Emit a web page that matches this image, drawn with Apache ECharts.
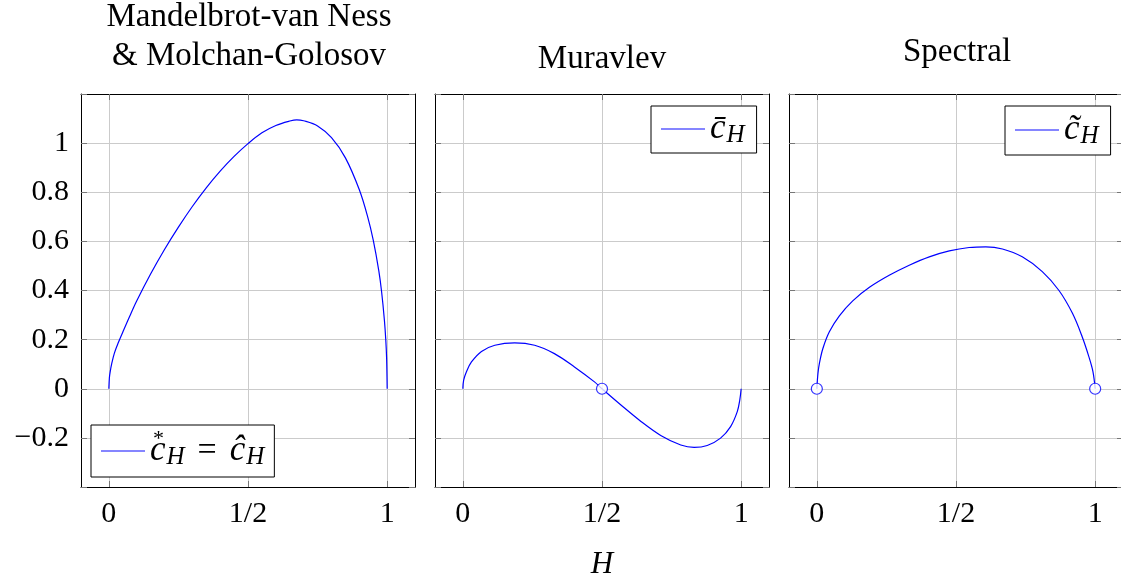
<!DOCTYPE html>
<html>
<head>
<meta charset="utf-8">
<script src="https://cdn.jsdelivr.net/npm/echarts@6/dist/echarts.min.js"></script>
<style>
html,body{margin:0;padding:0;background:#fff;}
#chart{width:1121px;height:579px;}
</style>
</head>
<body>
<div id="chart"></div>
<script>
// ---------------- data ----------------
const panelTitles = ['Mandelbrot-van Ness\n& Molchan-Golosov', 'Muravlev', 'Spectral'];
const xTickValues = [0, 0.5, 1];
const xTickLabels = ['0', '1/2', '1'];
const axisTitle = 'H';

// Mandelbrot-van Ness & Molchan-Golosov constant
const hStar = [0, 0.002, 0.005, 0.01, 0.02, 0.035, 0.05, 0.075, 0.1, 0.15, 0.2, 0.25, 0.3, 0.35, 0.4, 0.45, 0.5, 0.55, 0.6, 0.65, 0.675, 0.7, 0.75, 0.8, 0.85, 0.9, 0.93, 0.95, 0.97, 0.98, 0.99, 0.995, 0.998, 1.0];
const cStar = [0, 0.045, 0.07, 0.10, 0.145, 0.19, 0.23, 0.295, 0.357, 0.467, 0.567, 0.658, 0.742, 0.818, 0.886, 0.946, 0.998, 1.042, 1.072, 1.09, 1.095, 1.091, 1.07, 1.022, 0.94, 0.81, 0.70, 0.605, 0.48, 0.395, 0.28, 0.2, 0.125, 0];

// Muravlev constant
const hBar = [0, 0.003, 0.013, 0.031, 0.067, 0.115, 0.186, 0.258, 0.329, 0.401, 0.473, 0.5, 0.568, 0.640, 0.711, 0.783, 0.831, 0.878, 0.926, 0.962, 0.986, 0.995, 1.0];
const cBar = [0, 0.035, 0.069, 0.109, 0.152, 0.177, 0.187, 0.177, 0.143, 0.089, 0.028, 0, -0.066, -0.133, -0.190, -0.229, -0.239, -0.231, -0.201, -0.154, -0.093, -0.046, 0];
const barOpenH = [0.5];
const barOpenC = [0];

// Spectral constant
const hTilde = [0, 0.004, 0.010, 0.022, 0.045, 0.081, 0.129, 0.189, 0.260, 0.332, 0.404, 0.476, 0.547, 0.607, 0.667, 0.738, 0.810, 0.870, 0.918, 0.953, 0.977, 0.992, 1.0];
const cTilde = [0, 0.062, 0.108, 0.165, 0.232, 0.297, 0.358, 0.413, 0.462, 0.503, 0.537, 0.561, 0.575, 0.578, 0.569, 0.537, 0.477, 0.400, 0.308, 0.213, 0.132, 0.070, 0];
const tildeOpenH = [0, 1];
const tildeOpenC = [0, 0];

const legendNames = ['cstar', 'cbar', 'ctilde'];
const legendTexts = [
  '{c|c}{s|H}{eq|=}{c|c\u0302}{s|H}',
  '{c|c\u0304}{s|H}',
  '{c|c\u0303}{s|H}'
];

// ---------------- chart ----------------
const FONT = 'Liberation Serif';
const BLUE = '#0000ff';
const zip = (a, b) => a.map((v, i) => [v, b[i]]);

const gridLefts = [81, 435, 789];
const grids = gridLefts.map(l => ({left: l, top: 94, width: 334, height: 393, containLabel: false, outerBoundsMode: 'none'}));

const TICK = '#777777';
const GRIDC = '#cbcbcb';
const xAxes = [], yAxes = [];
gridLefts.forEach((l, i) => {
  xAxes.push({
    type: 'value', gridIndex: i, position: 'bottom', min: -0.1, max: 1.1,
    axisLine: {onZero: false, lineStyle: {color: '#000', width: 1}},
    axisTick: {inside: true, length: 6, customValues: xTickValues, lineStyle: {color: TICK}},
    axisLabel: {customValues: xTickValues, margin: 12, fontFamily: FONT, fontSize: 30, color: '#000',
      formatter: v => { const k = xTickValues.findIndex(t => Math.abs(t - v) < 1e-9); return k >= 0 ? xTickLabels[k] : ''; }},
    splitLine: {show: true, lineStyle: {color: GRIDC, width: 1}},
    name: i === 1 ? axisTitle : '', nameLocation: 'middle', nameGap: 62,
    nameTextStyle: {fontFamily: FONT, fontStyle: 'italic', fontSize: 31, color: '#000'}
  });
  xAxes.push({
    type: 'value', gridIndex: i, position: 'top', min: -0.1, max: 1.1,
    axisLine: {onZero: false, lineStyle: {color: '#000', width: 1}},
    axisTick: {inside: true, length: 6, customValues: xTickValues, lineStyle: {color: TICK}},
    axisLabel: {show: false}, splitLine: {show: false}
  });
  yAxes.push({
    type: 'value', gridIndex: i, position: 'left', min: -0.4, max: 1.2, interval: 0.2,
    axisLine: {onZero: false, lineStyle: {color: '#000', width: 1}},
    axisTick: {inside: true, length: 6, lineStyle: {color: TICK}},
    axisLabel: {show: i === 0, margin: 12, fontFamily: FONT, fontSize: 30, color: '#000',
      formatter: v => {
        if (Math.abs(v + 0.4) < 1e-9 || Math.abs(v - 1.2) < 1e-9) return '';
        const s = String(parseFloat(Math.abs(v).toFixed(1)));
        return (v < -1e-9 ? '\u2212' : '') + s;
      }},
    splitLine: {show: true, lineStyle: {color: GRIDC, width: 1}}
  });
  yAxes.push({
    type: 'value', gridIndex: i, position: 'right', min: -0.4, max: 1.2, interval: 0.2,
    axisLine: {onZero: false, lineStyle: {color: '#000', width: 1}},
    axisTick: {inside: true, length: 6, lineStyle: {color: TICK}},
    axisLabel: {show: false}, splitLine: {show: false}
  });
});

const lineSeries = (name, h, c, i) => ({
  name: name, type: 'line', xAxisIndex: 2 * i, yAxisIndex: 2 * i,
  data: zip(h, c), showSymbol: false, symbol: 'none', smooth: 0.35,
  lineStyle: {color: BLUE, width: 1.2}, itemStyle: {color: BLUE}, z: 3
});
const openSeries = (h, c, i) => ({
  name: 'open' + i, type: 'scatter', xAxisIndex: 2 * i, yAxisIndex: 2 * i,
  data: zip(h, c), symbol: 'circle', symbolSize: 11,
  itemStyle: {color: '#fff', borderColor: BLUE, borderWidth: 1.2}, z: 4
});

const richStyles = {
  c: {fontFamily: FONT, fontStyle: 'italic', fontSize: 35, color: '#000', lineHeight: 36},
  s: {fontFamily: FONT, fontStyle: 'italic', fontSize: 25, color: '#000', padding: [13, 0, 0, 1], lineHeight: 36},
  eq: {fontFamily: FONT, fontSize: 34, color: '#000', padding: [0, 13, 0, 13], lineHeight: 36}
};
const legendBase = (idx, pos, pad) => Object.assign({
  data: [legendNames[idx]], orient: 'horizontal',
  backgroundColor: '#fff', borderColor: '#000', borderWidth: 1, borderRadius: 0,
  padding: pad, itemWidth: 44, itemHeight: 1.3, itemGap: 4, icon: 'rect',
  itemStyle: {color: '#5c5cff', borderWidth: 0},
  formatter: () => legendTexts[idx],
  textStyle: {rich: richStyles},
  selectedMode: false
}, pos);

const option = {
  animation: false,
  backgroundColor: '#fff',
  title: panelTitles.map((t, i) => ({
    text: t, left: [249, 602, 957][i], top: [-2, 40, 33][i], textAlign: 'center', padding: 0,
    textStyle: {fontFamily: FONT, fontWeight: 'normal', fontSize: 33, lineHeight: 39, color: '#000'}
  })),
  grid: grids,
  xAxis: xAxes,
  yAxis: yAxes,
  legend: [
    legendBase(0, {left: 91, top: 425}, [7, 10, 7, 10]),
    legendBase(1, {left: 651, top: 106}, [4, 12, 5, 10]),
    legendBase(2, {left: 1005, top: 106}, [5, 12, 6, 10])
  ],
  graphic: [{
    type: 'text', left: 153, top: 428, z: 100,
    style: {text: '*', fontFamily: FONT, fontSize: 22, fill: '#000'}
  }],
  series: [
    lineSeries(legendNames[0], hStar, cStar, 0),
    lineSeries(legendNames[1], hBar, cBar, 1),
    openSeries(barOpenH, barOpenC, 1),
    lineSeries(legendNames[2], hTilde, cTilde, 2),
    openSeries(tildeOpenH, tildeOpenC, 2)
  ]
};

const chart = echarts.init(document.getElementById('chart'), null, {renderer: 'canvas'});
chart.setOption(option);
</script>
</body>
</html>
